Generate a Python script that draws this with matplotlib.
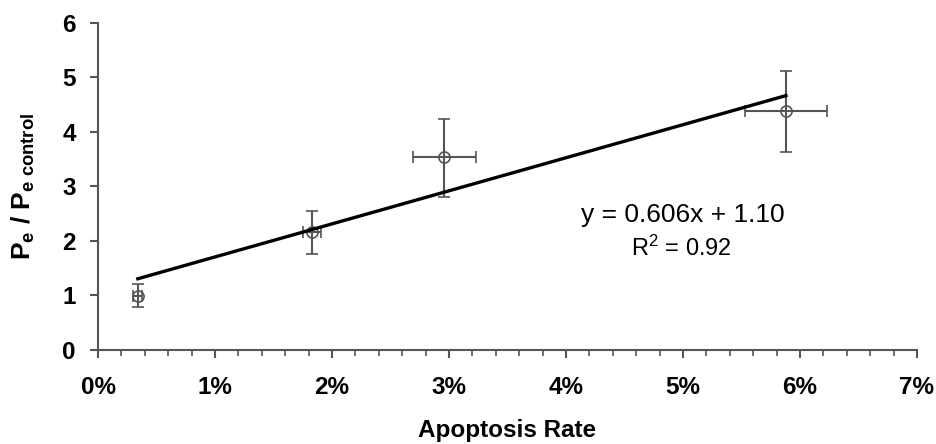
import numpy as np
import matplotlib.pyplot as plt
from matplotlib.ticker import MultipleLocator, FuncFormatter

plt.rcParams['font.family'] = ['Liberation Sans', 'DejaVu Sans']
plt.rcParams['mathtext.fontset'] = 'custom'
plt.rcParams['mathtext.rm'] = 'Liberation Sans'
plt.rcParams['mathtext.bf'] = 'Liberation Sans:bold'
plt.rcParams['mathtext.it'] = 'Liberation Sans:italic'

# data (x in %)
apoptosis = [0.34, 1.83, 2.96, 5.88]
apoptosis_err = [0.04, 0.08, 0.27, 0.35]
pe_ratio = [0.99, 2.17, 3.53, 4.38]
pe_err_up = [0.22, 0.38, 0.70, 0.74]
pe_err_down = [0.20, 0.41, 0.72, 0.75]

# trend line from the equation
slope = 0.606
intercept = 1.10

fig = plt.figure(figsize=(9.37, 4.44), dpi=100)
ax = fig.add_axes([0.1046, 0.2117, 0.874, 0.7372])

grey = '#555555'
ax.errorbar(apoptosis, pe_ratio, yerr=[pe_err_down, pe_err_up], xerr=apoptosis_err,
            fmt='o', mfc='none', mec=grey, ms=8, mew=1.2,
            ecolor=grey, elinewidth=1.5, capsize=4.5, capthick=1.5, zorder=3)

xs = np.array([min(apoptosis), max(apoptosis)])
ax.plot(xs, slope * xs + intercept, color='black', lw=2.4, zorder=4)

ax.text(5.0, 2.48, 'y = 0.606x + 1.10', fontsize=19, ha='center', va='center')
ax.text(4.99, 1.86, r'R$^2$ = 0.92', fontsize=17, ha='center', va='center')

ax.set_xlim(0, 7)
ax.set_ylim(0, 6)
ax.xaxis.set_major_locator(MultipleLocator(1))
ax.xaxis.set_minor_locator(MultipleLocator(0.2))
ax.yaxis.set_major_locator(MultipleLocator(1))
ax.xaxis.set_major_formatter(FuncFormatter(lambda v, p: '%d%%' % round(v)))

for s in ['top', 'right']:
    ax.spines[s].set_visible(False)
for s in ['left', 'bottom']:
    ax.spines[s].set_color(grey)
    ax.spines[s].set_linewidth(1.5)

ax.tick_params(which='major', length=6, width=1.5, color=grey, labelsize=17.5)
ax.tick_params(axis='x', which='major', pad=13)
ax.tick_params(axis='y', which='major', pad=10)
ax.tick_params(which='minor', length=4, width=1.2, color=grey)
for lab in ax.get_xticklabels() + ax.get_yticklabels():
    lab.set_fontweight('bold')

ax.set_xlabel('Apoptosis Rate', fontsize=17.5, fontweight='bold', labelpad=14)
ax.set_ylabel(r'$\mathbf{P_e\ /\ P_{e\ control}}$', fontsize=19, labelpad=18)

plt.savefig('out.png', dpi=100)
